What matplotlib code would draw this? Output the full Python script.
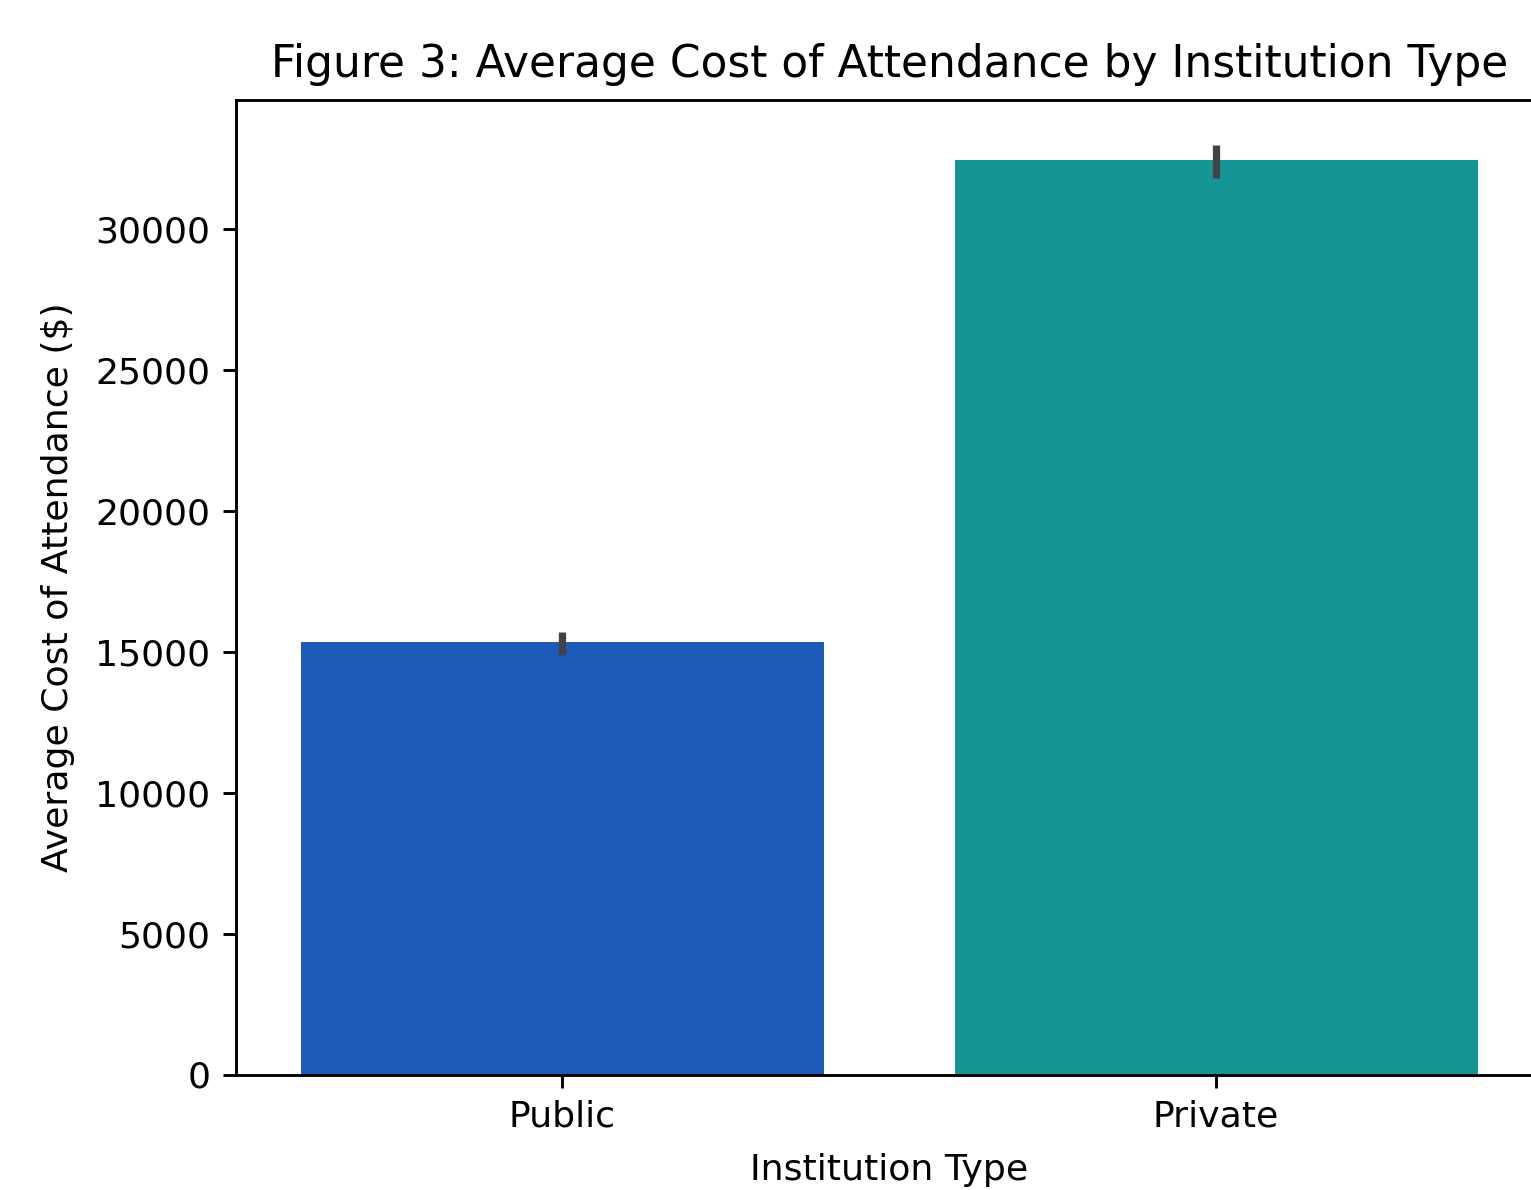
import matplotlib
matplotlib.use("Agg")
import matplotlib.pyplot as plt

categories = ["Public", "Private"]
mean_cost = [15340, 32457]
ci_low = [14890, 31807]
ci_high = [15712, 32990]
bar_colors = ["#1c5aba", "#169596"]

DPI = 261
fig = plt.figure(figsize=(1531 / DPI, 1190 / DPI), dpi=DPI)
W, H = 1531, 1190
left, right, top, bottom = 235.5, 1543, 100, 1074.5
ax = fig.add_axes([left / W, 1 - bottom / H, (right - left) / W, (bottom - top) / H])

x = list(range(len(categories)))
ax.bar(x, mean_cost, width=0.8, color=bar_colors)
for xi, lo, hi in zip(x, ci_low, ci_high):
    ax.plot([xi, xi], [lo, hi], color="#424242", linewidth=2.0, solid_capstyle="butt")

ax.set_xlim(-0.5, 1.5)
ax.set_ylim(0, 34586)
ax.set_xticks(x)
ax.set_xticklabels(categories)
ax.set_xlabel("Institution Type", labelpad=5.2)
ax.set_ylabel("Average Cost of Attendance ($)", labelpad=5.5)
ax.set_title("Figure 3: Average Cost of Attendance by Institution Type", fontsize=12.1, pad=6.4)

fig.savefig("out.png", dpi=DPI)
